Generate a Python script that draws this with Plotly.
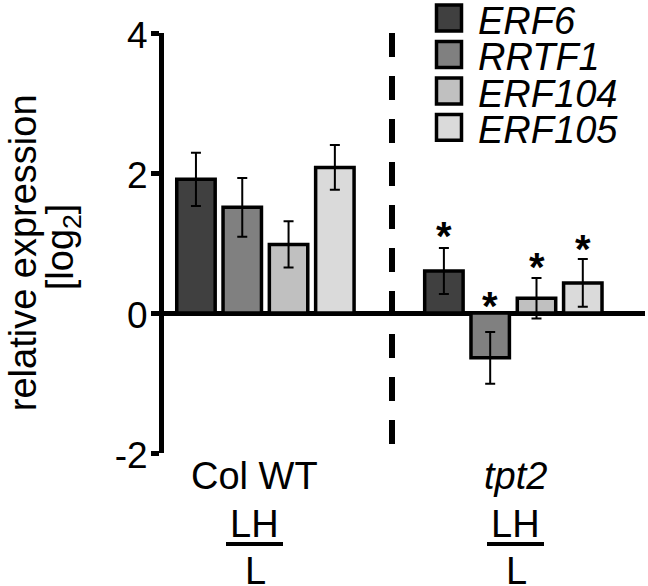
import plotly.graph_objects as go

# ---- data ----
groups = ["Col WT", "tpt2"]
genes = ["ERF6", "RRTF1", "ERF104", "ERF105"]
colors = ["#404040", "#808080", "#c0c0c0", "#dadada"]
values = {
    "ERF6":   [1.91, 0.60],
    "RRTF1":  [1.51, -0.64],
    "ERF104": [0.98, 0.21],
    "ERF105": [2.08, 0.43],
}
errors = {
    "ERF6":   [0.38, 0.33],
    "RRTF1":  [0.42, 0.37],
    "ERF104": [0.33, 0.29],
    "ERF105": [0.32, 0.34],
}
# significance stars (tpt2 group), y position in data units
star_y = [1.21, 0.21, 0.77, 1.03]
yticks = [-2, 0, 2, 4]

W, H = 648, 586
L, R, T, B = 164, 645, 32.5, 453
BARGAP = 0.253
BARGROUPGAP = 0.17
XR = [-0.409, 1.531]

def xp(px):
    return (px - L) / (R - L)

def yp(py):
    return (B - py) / (B - T)

fig = go.Figure()
for g, c in zip(genes, colors):
    fig.add_trace(go.Bar(
        x=groups, y=values[g], name=g,
        marker=dict(color=c, line=dict(color="black", width=3.5)),
        error_y=dict(type="data", array=errors[g], color="black",
                     thickness=2, width=5),
        hoverinfo="skip",
    ))

FONT = "Liberation Sans, Arial, sans-serif"
annotations = []
shapes = []

# stars above tpt2 bars
slot = (1 - BARGAP) / len(genes)
for i, sy in enumerate(star_y):
    annotations.append(dict(
        x=1 + (i - (len(genes) - 1) / 2) * slot, y=sy, xref="x", yref="y",
        text="<b>*</b>", showarrow=False, yshift=-8,
        font=dict(family=FONT, size=40, color="black"),
        xanchor="center", yanchor="middle"))

# dashed separator
shapes.append(dict(type="line", xref="paper", yref="y",
                   x0=xp(392), x1=xp(392), y0=4, y1=-2,
                   line=dict(color="black", width=6, dash="24px,19px")))

# y axis title
annotations.append(dict(x=xp(23), y=yp(253), xref="paper", yref="paper",
                        text="relative expression", textangle=-90,
                        showarrow=False, xanchor="center", yanchor="middle",
                        font=dict(family=FONT, size=38, color="black")))
annotations.append(dict(x=xp(63), y=yp(247), xref="paper", yref="paper",
                        text="[log<sub>2</sub>]", textangle=-90,
                        showarrow=False, xanchor="center", yanchor="middle",
                        font=dict(family=FONT, size=38, color="black")))

# group labels
glabels = ["Col WT", "<i>tpt2</i>"]
gx = [254, 515]
for lab, cx in zip(glabels, gx):
    annotations.append(dict(x=xp(cx), y=yp(476), xref="paper", yref="paper",
                            text=lab, showarrow=False, xanchor="center",
                            yanchor="middle",
                            font=dict(family=FONT, size=38, color="black")))
    annotations.append(dict(x=xp(cx), y=yp(524), xref="paper", yref="paper",
                            text="LH", showarrow=False, xanchor="center",
                            yanchor="middle",
                            font=dict(family=FONT, size=38, color="black")))
    annotations.append(dict(x=xp(cx + 1), y=yp(571), xref="paper", yref="paper",
                            text="L", showarrow=False, xanchor="center",
                            yanchor="middle",
                            font=dict(family=FONT, size=38, color="black")))
    shapes.append(dict(type="line", xref="paper", yref="paper",
                       x0=xp(cx - 28), x1=xp(cx + 29), y0=yp(544), y1=yp(544),
                       line=dict(color="black", width=4)))

# custom legend
for i, (g, c) in enumerate(zip(genes, colors)):
    top = 4.5 + i * 36.5
    shapes.append(dict(type="rect", xref="paper", yref="paper",
                       x0=xp(436.5), x1=xp(461.5), y0=yp(top), y1=yp(top + 26),
                       fillcolor=c, line=dict(color="black", width=3.5)))
    annotations.append(dict(x=xp(476), y=yp(top + 16), xref="paper",
                            yref="paper", text="<i>%s</i>" % g,
                            showarrow=False, xanchor="left", yanchor="middle",
                            font=dict(family=FONT, size=38, color="black")))

fig.update_layout(
    width=W, height=H,
    margin=dict(l=L, r=W - R, t=T, b=H - B, pad=0),
    paper_bgcolor="white", plot_bgcolor="white",
    barmode="group", bargap=BARGAP, bargroupgap=BARGROUPGAP,
    showlegend=False, hovermode=False,
    annotations=annotations, shapes=shapes,
    font=dict(family=FONT, color="black"),
)
fig.update_xaxes(range=XR, showticklabels=False, showline=False,
                 showgrid=False, zeroline=False, ticks="")
fig.update_yaxes(range=[-2, 4], tickvals=yticks,
                 ticktext=[str(v) for v in yticks],
                 showline=True, linecolor="black", linewidth=5,
                 ticks="outside", ticklen=8, tickwidth=5, tickcolor="black",
                 tickfont=dict(family=FONT, size=37, color="black"),
                 ticklabelstandoff=-4, ticklabelshift=2,
                 showgrid=False, zeroline=True, zerolinecolor="black",
                 zerolinewidth=5)

fig.write_html(
    "out.html",
    config={"displayModeBar": False, "staticPlot": True},
    post_script="document.body.style.margin='0px';"
                "document.body.style.overflow='hidden';",
)
